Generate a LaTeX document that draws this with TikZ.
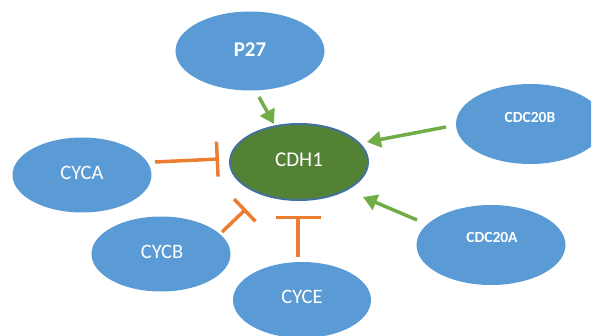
\documentclass[tikz,border=0pt]{standalone}
\usepackage{fontspec}
\setmainfont{Carlito}
\usetikzlibrary{arrows.meta,shapes.geometric,calc}
\definecolor{bubblefill}{HTML}{5B9BD5}
\definecolor{hubfill}{HTML}{548235}
\definecolor{hubline}{HTML}{41719C}
\definecolor{actgreen}{HTML}{70AD47}
\definecolor{inhorange}{HTML}{ED7D31}
\begin{document}
\begin{tikzpicture}[x=1pt,y=-1pt,
  bubble/.style n args={2}{ellipse, fill=bubblefill, draw=none, inner sep=0pt,
    minimum width=#1, minimum height=#2},
  hub/.style={ellipse, fill=hubfill, draw=hubline, line width=2pt, inner sep=0pt,
    minimum width=138, minimum height=76},
  txt/.style={text=white, font=\fontsize{20.5}{24}\selectfont, inner sep=0pt},
  boldtxt/.style={text=white, font=\fontsize{21}{24}\selectfont\bfseries, inner sep=0pt},
  smalltxt/.style={text=white, font=\fontsize{15.5}{18}\selectfont\bfseries, inner sep=0pt},
  act/.style={draw=actgreen, line width=3.5pt, -{Triangle[width=16pt,length=14pt]}},
  inh/.style={draw=inhorange, line width=3.5pt, -{Bar[width=#1]}}]
\useasboundingbox (0,0) rectangle (593,336);
\clip (0,0) rectangle (591,336);

% proteins
\node[bubble={149}{79}, label={[boldtxt, yshift=1pt]center:P27}] (p27) at (250,51) {};
\node[hub, label={[txt, yshift=2pt, font=\fontsize{21}{24}\selectfont]center:CDH1}] (cdh1) at (299,162) {};
\node[bubble={148}{80}, label={[smalltxt, yshift=7pt]center:CDC20B}] (cdc20b) at (530,124) {};
\node[bubble={139}{75}, label={[txt, yshift=2pt]center:CYCA}] (cyca) at (82,175) {};
\node[bubble={139}{75}, label={[txt, yshift=2pt, xshift=1pt]center:CYCB}] (cycb) at (161,254) {};
\node[bubble={138}{76}, label={[txt, yshift=3pt]center:CYCE}] (cyce) at (302,300) {};
\node[bubble={149}{80}, label={[smalltxt, yshift=8pt, xshift=1pt]center:CDC20A}] (cdc20a) at (491,245) {};

% activation
\draw[act] ($(p27)+(9,46)$) -- ($(cdh1)+(-25,-38)$);
\draw[act] ($(cdc20b)+(-84,3)$) -- ($(cdh1)+(68,-20)$);
\draw[act] ($(cdc20a)+(-74,-25)$) -- ($(cdh1)+(64,35)$);

% inhibition
\draw[inh=35pt] ($(cyca)+(73,-13)$) -- ($(cdh1)+(-80,-3)$);
\draw[inh=31pt] ($(cycb)+(61,-22)$) -- ($(cdh1)+(-53,47)$);
\draw[inh=45pt] ($(cyce)+(-4,-43)$) -- ($(cdh1)+(-1,54)$);
\end{tikzpicture}
\end{document}
